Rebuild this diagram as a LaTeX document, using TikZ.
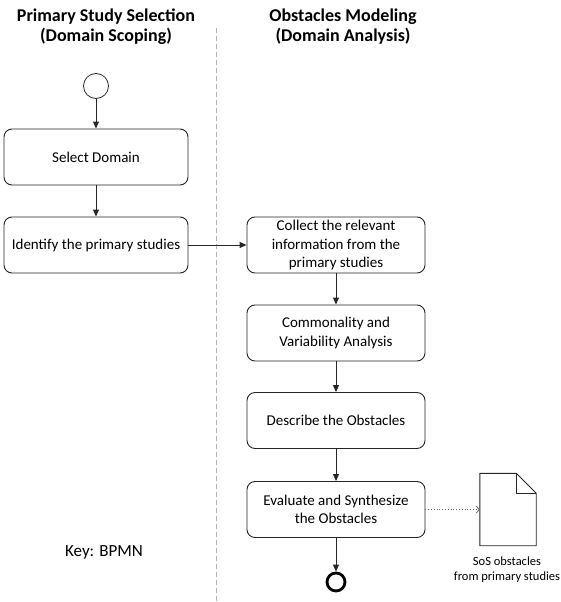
\documentclass[tikz,border=0pt]{standalone}
\usepackage{fontspec}
\setmainfont{Carlito}
\usetikzlibrary{arrows.meta}
\begin{document}
\begin{tikzpicture}[x=1pt,y=-1pt,
  task/.style={draw=black!85, line width=0.9pt, rounded corners=8pt, minimum height=56pt, align=center, font=\fontsize{15}{18.5}\selectfont, inner sep=0pt},
  lefttask/.style={task, minimum width=184pt},
  righttask/.style={task, minimum width=178pt},
  flow/.style={-{Triangle[length=7pt,width=6pt]}, line width=1pt, draw=black!85},
  assoc/.style={dotted, line width=0.8pt, draw=black!60, -{Straight Barb[length=3pt,width=7pt]}},
  lanetitle/.style={font=\fontsize{18}{20}\selectfont\bfseries, align=center},
  startev/.style={circle, draw=black!85, line width=0.8pt, minimum size=25pt, inner sep=0pt},
  endev/.style={circle, draw=black, line width=2.8pt, minimum size=18pt, inner sep=0pt},
  divider/.style={draw=black!30, line width=0.8pt, dash pattern=on 5pt off 3pt}]
\useasboundingbox (0,0) rectangle (560,602);
\coordinate (divtop) at (216,28);
\coordinate (divbot) at (216,602);
\draw[divider] (divtop) -- (divbot);

\node[lanetitle] (t1) at (106,27) {Primary Study Selection\\(Domain Scoping)};
\node[lanetitle] (t2) at (343,27) {Obstacles Modeling\\(Domain Analysis)};

\node[startev] (start) at (96,86) {};
\node[lefttask] (select) at (96,157) {Select Domain};
\node[lefttask] (ident) at (96,245) {Identify the primary studies};

\node[righttask] (collect) at (336,245) {Collect the relevant\\information from the\\primary studies};
\node[righttask] (common) at (336,333) {Commonality and\\Variability Analysis};
\node[righttask] (describe) at (336,420.5) {Describe the Obstacles};
\node[righttask] (eval) at (336,509.5) {Evaluate and Synthesize\\the Obstacles};
\node[endev] (end) at (336,582) {};

\node[minimum width=56pt, minimum height=72pt, inner sep=0pt] (doc) at (508,509.5) {};
\draw[draw=black!85, line width=0.9pt] (doc.north west) -- ([xshift=-20pt]doc.north east) -- ([yshift=-20pt]doc.north east) -- (doc.south east) -- (doc.south west) -- cycle;
\draw[draw=black!85, line width=0.9pt] ([xshift=-20pt]doc.north east) -- ([xshift=-20pt,yshift=-20pt]doc.north east) -- ([yshift=-20pt]doc.north east);
\node[font=\fontsize{12.5}{15}\selectfont, align=center] (doclabel) at (507,570) {SoS obstacles\\from primary studies};

\node[font=\fontsize{17}{20}\selectfont] (key) at (104,552) {Key: BPMN};

\draw[flow] (start) -- (select);
\draw[flow] (select) -- (ident);
\draw[flow] (ident) -- (collect);
\draw[flow] (collect) -- (common);
\draw[flow] (common) -- (describe);
\draw[flow] (describe) -- (eval);
\draw[flow] (eval) -- (end);
\draw[assoc] (eval) -- (doc);
\end{tikzpicture}
\end{document}
